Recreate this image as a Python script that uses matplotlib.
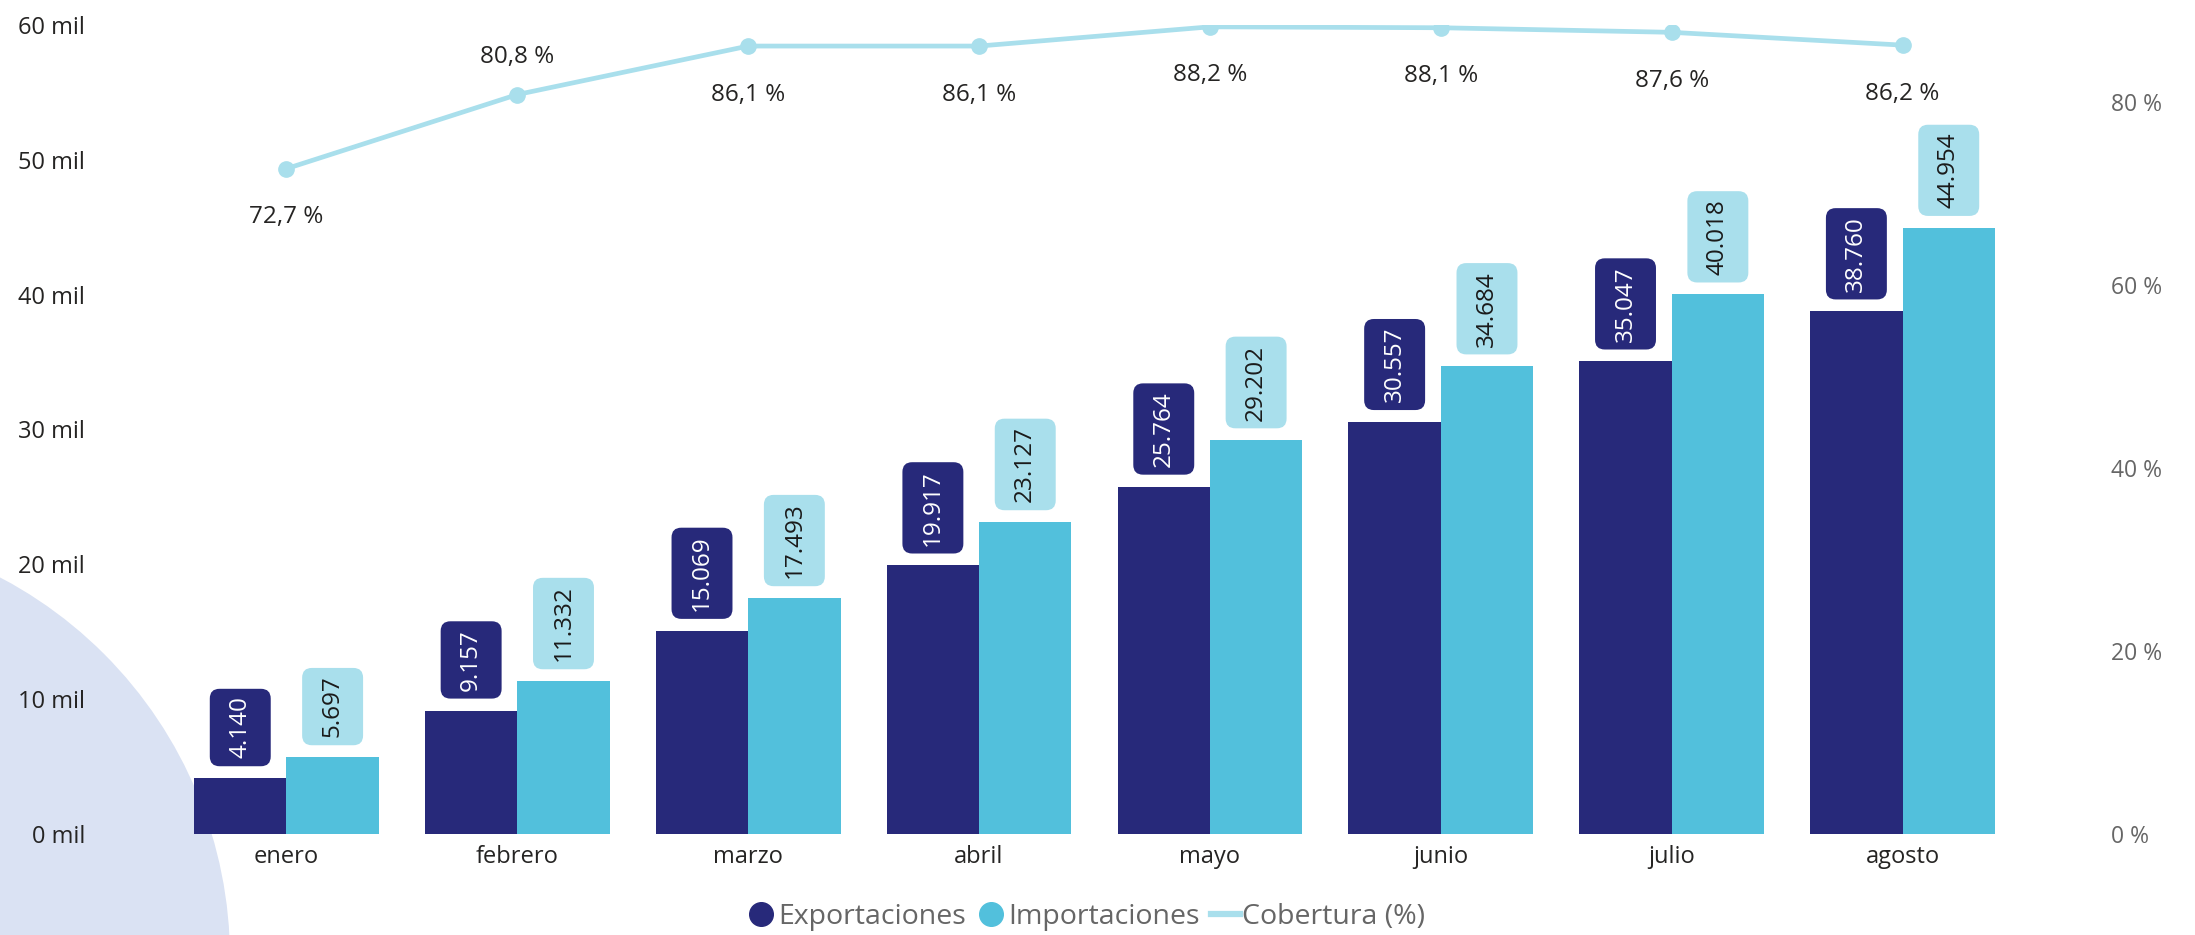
import matplotlib.pyplot as plt
from matplotlib.lines import Line2D
from matplotlib.patches import Circle, BoxStyle
import numpy as np

plt.rcParams['font.family'] = ['Open Sans', 'DejaVu Sans']

meses = ['enero', 'febrero', 'marzo', 'abril', 'mayo', 'junio', 'julio', 'agosto']
exportaciones = [4140, 9157, 15069, 19917, 25764, 30557, 35047, 38760]
importaciones = [5697, 11332, 17493, 23127, 29202, 34684, 40018, 44954]
cobertura = [72.7, 80.8, 86.1, 86.1, 88.2, 88.1, 87.6, 86.2]
left_ticks = [0, 10, 20, 30, 40, 50, 60]
right_ticks = [0, 20, 40, 60, 80]

# where the coverage labels go, like the report
label_pos = ['below', 'above', 'below', 'below', 'below', 'below', 'below', 'below']

navy = '#27297A'
cyan = '#52C0DC'
light = '#A9DFEC'
bg_circle = '#DAE2F3'

W, H = 2195, 935
fig = plt.figure(figsize=(W / 100, H / 100), dpi=100)

# decorative circle bottom-left (inches)
fig.add_artist(Circle((-2.0, -0.23), 4.30, transform=fig.dpi_scale_trans,
                      color=bg_circle, zorder=-1, lw=0))

ax = fig.add_axes([171 / W, 101 / H, (2018 - 171) / W, (834 - 25) / H])
ax.patch.set_visible(False)

x = np.arange(len(meses))
bw = 0.4
ax.bar(x - bw / 2, np.array(exportaciones) / 1000, bw, color=navy, zorder=2)
ax.bar(x + bw / 2, np.array(importaciones) / 1000, bw, color=cyan, zorder=2)

fs_lab = 17.5
pad_along = 0.32   # along the text
pad_across = 0.76  # across the text
_round = BoxStyle.Round(pad=0, rounding_size=0.4)


def lbl_box(x0, y0, width, height, mutation_size):
    px = pad_along * mutation_size
    py = pad_across * mutation_size
    return _round(x0 - px, y0 - py, width + 2 * px, height + 2 * py, mutation_size)


def fmt_miles(v):
    return f"{v:,}".replace(",", ".")


gap = 8.6 + pad_along * fs_lab
for xi, v in zip(x, exportaciones):
    ax.annotate(fmt_miles(v), (xi - bw / 2, v / 1000), xytext=(0, gap),
                textcoords='offset points', rotation=90, ha='center', va='bottom',
                fontsize=fs_lab, color='white', zorder=3,
                bbox=dict(boxstyle=lbl_box, fc=navy, ec='none'))
for xi, v in zip(x, importaciones):
    ax.annotate(fmt_miles(v), (xi + bw / 2, v / 1000), xytext=(0, gap),
                textcoords='offset points', rotation=90, ha='center', va='bottom',
                fontsize=fs_lab, color='#1a1a1a', zorder=3,
                bbox=dict(boxstyle=lbl_box, fc=light, ec='none'))

ax.set_xlim(-0.5, len(meses) - 0.5)
ax.set_ylim(0, 60)
ax.set_xticks(x)
ax.set_xticklabels(meses, fontsize=17, color='#252423')
ax.set_yticks(left_ticks)
ax.set_yticklabels([f"{t} mil" for t in left_ticks], fontsize=17, color='#252423')
ax.tick_params(axis='y', length=0, pad=62)
ax.tick_params(axis='x', length=0, pad=8)
for s in ax.spines.values():
    s.set_visible(False)

ax2 = ax.twinx()
ax2.plot(x, cobertura, color=light, lw=3.4, marker='o', ms=11, zorder=4)
ax2.set_ylim(0, 88.4)
ax2.set_yticks(right_ticks)
ax2.set_yticklabels([f"{t} %" for t in right_ticks], fontsize=16.5, color='#666666')
ax2.tick_params(axis='y', length=0, pad=67)
for s in ax2.spines.values():
    s.set_visible(False)

for xi, v, pos in zip(x, cobertura, label_pos):
    dy = 27 if pos == 'above' else -35
    ax2.annotate(f"{v:.1f}".replace(".", ",") + " %", (xi, v), xytext=(0, dy),
                 textcoords='offset points', ha='center', va='center',
                 fontsize=17.5, color='#252423')

handles = [
    Line2D([], [], ls='none', marker='o', ms=17, color=navy),
    Line2D([], [], ls='none', marker='o', ms=17, color=cyan),
    Line2D([], [], color=light, lw=4.5),
]
fig.legend(handles, ['Exportaciones', 'Importaciones', 'Cobertura (%)'],
           loc='center', bbox_to_anchor=(1086 / W, 18 / H), ncol=3, frameon=False,
           fontsize=20.5, labelcolor='#666666', handlelength=1.0, handletextpad=0.1,
           columnspacing=0.4)

fig.savefig('out.png', dpi=100)
